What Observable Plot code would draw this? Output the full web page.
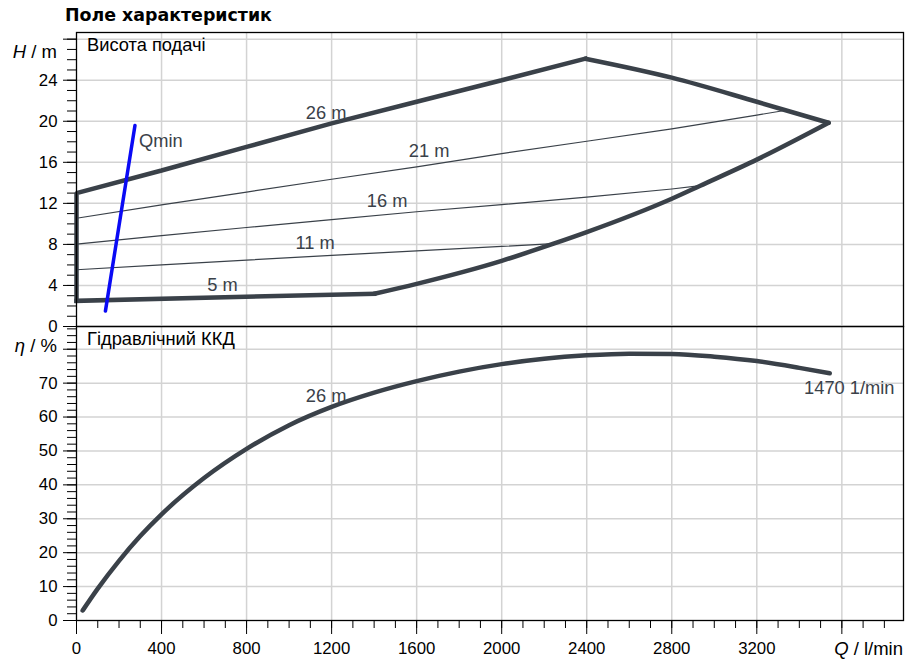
<!DOCTYPE html>
<html><head><meta charset="utf-8">
<script src="https://cdn.jsdelivr.net/npm/d3@7"></script>
<script src="https://cdn.jsdelivr.net/npm/@observablehq/plot@0.6"></script>
<style>
html,body{margin:0;padding:0;background:#fff;}
#chart{position:relative;width:923px;height:670px;}
#chart svg{position:absolute;left:0;}
</style></head><body><div id="chart"></div>
<script>
// ---- axes / ticks ----
const xDomain = [0, 3890];
const xMajorTicks = [0, 400, 800, 1200, 1600, 2000, 2400, 2800, 3200, 3600];
const xTickLabels = ["0", "400", "800", "1200", "1600", "2000", "2400", "2800", "3200", ""];
const hDomain = [0, 28.65];
const hMajorTicks = [0, 4, 8, 12, 16, 20, 24, 28];
const hTickLabels = ["0", "4", "8", "12", "16", "20", "24", ""];
const effDomain = [0, 86.7];
const effMajorTicks = [0, 10, 20, 30, 40, 50, 60, 70, 80];
const effTickLabels = ["0", "10", "20", "30", "40", "50", "60", "70", ""];

// ---- head field boundary (thick) ----
const qLeft = [0, 0];
const hLeft = [2.5, 13.0];
const q26 = [0, 400, 800, 1200, 1600, 2000, 2393];
const h26 = [13.0, 15.2, 17.5, 19.8, 21.9, 24.0, 26.1];
const qTopRight = [2393, 2800, 3200, 3538];
const hTopRight = [26.1, 24.25, 21.9, 19.85];
const qMaxFlow = [1400, 1600, 2000, 2244, 2400, 2800, 2934, 3200, 3538];
const hMaxFlow = [3.19, 4.16, 6.4, 8.07, 9.2, 12.45, 13.72, 16.26, 19.85];
const q5 = [0, 1400];
const h5 = [2.5, 3.19];

// ---- intermediate head curves (thin) ----
const q21 = [0, 400, 800, 1200, 1600, 2000, 2400, 2800, 3200, 3330];
const h21 = [10.55, 11.85, 13.1, 14.35, 15.55, 16.85, 18.05, 19.25, 20.6, 21.05];
const q16 = [0, 400, 800, 1200, 1600, 2000, 2400, 2800, 2934];
const h16 = [8.03, 8.85, 9.65, 10.42, 11.18, 11.88, 12.6, 13.4, 13.72];
const q11 = [0, 400, 800, 1200, 1600, 2000, 2244];
const h11 = [5.53, 6.0, 6.47, 6.93, 7.37, 7.8, 8.07];

// ---- Qmin ----
const qMin = [136, 275];
const hMin = [1.5, 19.58];

// ---- efficiency ----
const qEff = [29, 100, 200, 300, 400, 600, 800, 1000, 1200, 1400, 1600, 1800, 2000, 2200, 2400, 2600, 2800, 3000, 3200, 3400, 3543];
const eff = [2.95, 9.4, 17.6, 24.9, 31.3, 42.0, 50.6, 57.6, 63.0, 67.2, 70.6, 73.4, 75.6, 77.2, 78.2, 78.7, 78.6, 77.8, 76.5, 74.5, 72.9];

// ---- curve labels ----
const topLabelText = ["26 m", "21 m", "16 m", "11 m", "5 m"];
const topLabelQ = [1174, 1659, 1461, 1122, 687];
const topLabelH = [20.8, 17.07, 12.2, 8.13, 4.07];
const qminLabel = {text: "Qmin", Q: 294, H: 18.08};
const effLabelText = ["26 m", "1470 1/min"];
const effLabelQ = [1174, 3635];
const effLabelE = [66.1, 68.4];

// ---- build tables ----
const pts = (qs, ys, key) => qs.map((q, i) => ({Q: q, [key]: ys[i]}));
const upperEdge = [...pts(qLeft, hLeft, "H"), ...pts(q26, h26, "H").slice(1)];
const topRight = pts(qTopRight, hTopRight, "H");
const maxFlow = pts(qMaxFlow, hMaxFlow, "H");
const lowerEdge = pts(q5, h5, "H");
const thin = [
  ...pts(q21, h21, "H").map(d => ({...d, s: "21"})),
  ...pts(q16, h16, "H").map(d => ({...d, s: "16"})),
  ...pts(q11, h11, "H").map(d => ({...d, s: "11"}))
];
const qminLine = pts(qMin, hMin, "H");
const effLine = pts(qEff, eff, "E");
const topLabels = topLabelText.map((t, i) => ({t, Q: topLabelQ[i], H: topLabelH[i]}));
const effLabels = effLabelText.map((t, i) => ({t, Q: effLabelQ[i], E: effLabelE[i]}));

const xMinorTicks = d3.range(0, 3900, 100);
const hMinorTicks = d3.range(0, 29, 1);
const effMinorTicks = d3.range(0, 87, 2);

const curveColor = "#3a4149";
const gridColor = "#d3d3d3";
const labelSize = 18.3;
const thick = {x: "Q", y: "H", stroke: curveColor, strokeWidth: 4.5};
const baseStyle = {fontFamily: '"Liberation Sans", Arial, sans-serif', fontSize: "16.8px", background: "transparent", overflow: "visible", color: "#000"};

const topPlot = Plot.plot({
  width: 923, height: 326,
  marginTop: 32, marginBottom: 0, marginLeft: 76, marginRight: 20,
  x: {domain: xDomain, axis: null},
  y: {domain: hDomain},
  style: baseStyle,
  marks: [
    Plot.gridX(xMajorTicks.slice(1), {stroke: gridColor, strokeOpacity: 1, strokeWidth: 1.5}),
    Plot.gridY(hMajorTicks.slice(1), {stroke: gridColor, strokeOpacity: 1, strokeWidth: 1.5}),
    Plot.axisY(hMinorTicks, {tickSize: 9, tickFormat: () => "", label: null}),
    Plot.axisY(hMajorTicks, {tickSize: 13, tickPadding: 6, tickFormat: d => hTickLabels[hMajorTicks.indexOf(d)], label: null}),
    Plot.line(thin, {x: "Q", y: "H", z: "s", stroke: curveColor, strokeWidth: 1.2}),
    Plot.line(upperEdge, {...thick, strokeLinejoin: "miter", strokeLinecap: "square"}),
    Plot.line(lowerEdge, {...thick, strokeLinecap: "square"}),
    Plot.line(topRight, {...thick, strokeLinecap: "round", curve: "monotone-x"}),
    Plot.line(maxFlow, {...thick, strokeLinecap: "round", curve: "monotone-x"}),
    Plot.line(qminLine, {x: "Q", y: "H", stroke: "#0a0af5", strokeWidth: 3.5, strokeLinecap: "round"}),
    Plot.text(topLabels, {x: "Q", y: "H", text: "t", fill: curveColor, fontSize: labelSize}),
    Plot.text([qminLabel], {x: "Q", y: "H", text: "text", fill: curveColor, fontSize: labelSize, textAnchor: "start"}),
    Plot.frame({stroke: "#000", strokeWidth: 1.3})
  ]
});

const botPlot = Plot.plot({
  width: 923, height: 344,
  marginTop: 0, marginBottom: 50, marginLeft: 76, marginRight: 20,
  x: {domain: xDomain},
  y: {domain: effDomain},
  style: baseStyle,
  marks: [
    Plot.gridX(xMajorTicks.slice(1), {stroke: gridColor, strokeOpacity: 1, strokeWidth: 1.5}),
    Plot.gridY(effMajorTicks.slice(1), {stroke: gridColor, strokeOpacity: 1, strokeWidth: 1.5}),
    Plot.axisY(effMinorTicks, {tickSize: 9, tickFormat: () => "", label: null}),
    Plot.axisY(effMajorTicks, {tickSize: 13, tickPadding: 6, tickFormat: d => effTickLabels[effMajorTicks.indexOf(d)], label: null}),
    Plot.axisX(xMinorTicks, {tickSize: 8, tickFormat: () => "", label: null}),
    Plot.axisX(xMajorTicks, {tickSize: 14, tickPadding: 8, tickFormat: d => xTickLabels[xMajorTicks.indexOf(d)], label: null}),
    Plot.line(effLine, {x: "Q", y: "E", stroke: curveColor, strokeWidth: 4.5, strokeLinecap: "round", curve: "monotone-x"}),
    Plot.text(effLabels, {x: "Q", y: "E", text: "t", fill: curveColor, fontSize: labelSize}),
    Plot.frame({stroke: "#000", strokeWidth: 1.3})
  ]
});

const chart = document.getElementById("chart");
botPlot.style.top = "326px";
botPlot.style.zIndex = "1";
topPlot.style.top = "0px";
topPlot.style.zIndex = "2";
chart.appendChild(botPlot);
chart.appendChild(topPlot);

// static titles and axis labels
const addText = (sel, x, y, anchor, size) => sel.append("text")
  .attr("x", x).attr("y", y).attr("text-anchor", anchor)
  .attr("font-size", size).attr("fill", "#000");

const ts = d3.select(topPlot);
addText(ts, 65, 21, "start", 17.4)
  .attr("font-family", '"DejaVu Sans", Verdana, sans-serif').attr("font-weight", "bold")
  .text("Поле характеристик");
addText(ts, 87, 50.5, "start", labelSize).text("Висота подачі");
const hl = addText(ts, 57, 58, "end", 18.5);
hl.append("tspan").attr("font-style", "italic").text("H");
hl.append("tspan").text(" / m");

const bs = d3.select(botPlot);
addText(bs, 87, 18.5, "start", labelSize).text("Гідравлічний ККД");
const el = addText(bs, 57, 26, "end", 18.5);
el.append("tspan").attr("font-style", "italic").text("η");
el.append("tspan").text(" / %");
const ql = addText(bs, 903, 328.5, "end", 18.5);
ql.append("tspan").attr("font-style", "italic").text("Q");
ql.append("tspan").text(" / l/min");
</script></body></html>
